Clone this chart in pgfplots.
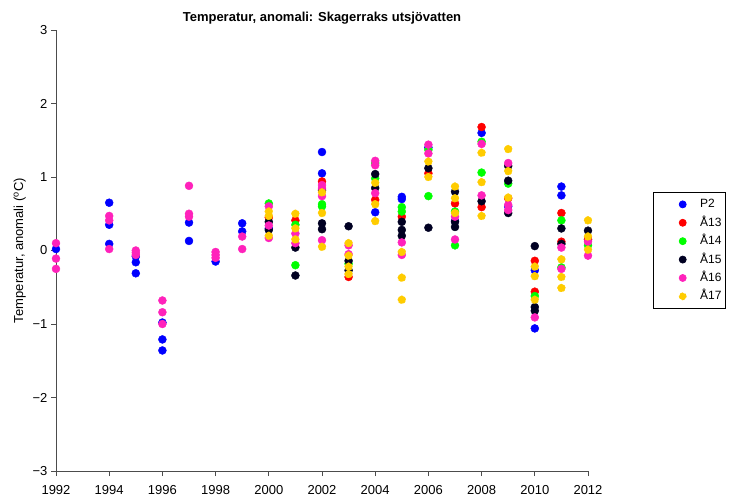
\documentclass[border=0pt]{standalone}
\usepackage{fontspec}
\setmainfont{Liberation Sans}
\usepackage{pgfplots}
\pgfplotsset{compat=1.18}
\definecolor{cP}{RGB}{0,0,255}
\definecolor{cA}{RGB}{255,0,0}
\definecolor{cB}{RGB}{0,255,0}
\definecolor{cC}{RGB}{0,0,34}
\definecolor{cD}{RGB}{255,34,187}
\definecolor{cE}{RGB}{255,204,0}
\begin{document}
\begin{tikzpicture}[x=1pt,y=1pt]
\useasboundingbox (-56,-27) rectangle (680,471);
\begin{axis}[
  at={(0,0)}, anchor=south west,
  scale only axis, width=532pt, height=441pt,
  xmin=1992, xmax=2012, ymin=-3, ymax=3,
  xtick={1992,1994,...,2012}, ytick={-3,-2,...,3},
  yticklabels={−3,−2,−1,0,1,2,3},
  axis lines*=left,
  tick align=outside, tick pos=left,
  major tick length=5pt,
  clip=false,
  axis line style={line width=0.8pt, black!70},
  tick style={line width=0.8pt, black!70},
  /pgf/number format/1000 sep={},
  /pgf/number format/assume math mode=true,
  tick label style={font=\fontsize{13}{13}\selectfont},
  xticklabel style={yshift=-6pt},
  title={\textbf{Temperatur, anomali: Skagerraks utsjövatten}},
  title style={font=\fontsize{13}{13}\selectfont, at={(0.5,1)}, yshift=-4pt},
  ylabel={Temperatur, anomali ($^{\mathrm{o}}$C)},
  ylabel style={font=\fontsize{13}{13}\selectfont, yshift=0pt},
  only marks,
  legend style={at={(1.122,0.6327)}, anchor=north west, draw=black, line width=0.8pt,
    font=\fontsize{12}{12}\selectfont, inner xsep=2pt, inner ysep=5pt, row sep=4.4pt,
    nodes={text height=8.5pt, text depth=1.5pt, inner sep=2pt},
    /tikz/every even column/.append style={column sep=0pt}},
  legend image code/.code={\fill[#1] (27pt,0pt) circle (3.5pt); \path (0pt,0pt) (42pt,0pt);},
  legend cell align=left,
]
\addplot+[mark=*, mark size=4pt, color=cP, mark options={fill=cP, draw=cP}] coordinates {
(1992,0.02) (1994,0.65) (1994,0.35) (1994,0.09) (1995,-0.08) (1995,-0.16) (1995,-0.31)
(1996,-0.98) (1996,-1.21) (1996,-1.36) (1997,0.38) (1997,0.13) (1998,-0.15)
(1999,0.37) (1999,0.26) (2000,0.30) (2002,1.34) (2002,1.05) (2004,0.52)
(2005,0.73) (2005,0.70) (2006,1.40) (2007,0.40) (2008,1.60) (2009,0.60)
(2010,-0.27) (2010,-1.06) (2011,0.87) (2011,0.75) (2012,0.15)};
\addlegendentry{P2}
\addplot+[mark=*, mark size=4pt, color=cA, mark options={fill=cA, draw=cA}] coordinates {
(2000,0.45) (2001,0.41) (2002,0.94) (2003,-0.36) (2004,0.69) (2005,0.46) (2006,1.05)
(2007,0.64) (2008,1.68) (2008,0.59) (2009,0.71) (2010,-0.14) (2010,-0.56)
(2011,0.51) (2011,0.12) (2012,0.15)};
\addlegendentry{Å13}
\addplot+[mark=*, mark size=4pt, color=cB, mark options={fill=cB, draw=cB}] coordinates {
(2000,0.64) (2001,0.35) (2001,-0.20) (2002,0.63) (2002,0.60) (2003,-0.18)
(2004,1.19) (2004,0.98) (2005,0.59) (2005,0.53) (2006,1.37) (2006,0.74)
(2007,0.53) (2007,0.07) (2008,1.48) (2008,1.06) (2009,0.91) (2010,-0.62)
(2011,0.41) (2011,-0.23) (2012,0.07)};
\addlegendentry{Å14}
\addplot+[mark=*, mark size=4pt, color=cC, mark options={fill=cC, draw=cC}] coordinates {
(2000,0.39) (2000,0.28) (2001,0.04) (2001,-0.34) (2002,0.82) (2002,0.37) (2002,0.29)
(2003,0.33) (2003,-0.14) (2003,-0.27) (2004,1.04) (2004,0.85)
(2005,0.39) (2005,0.28) (2005,0.20) (2006,1.12) (2006,0.31)
(2007,0.80) (2007,0.39) (2007,0.32) (2008,0.67) (2009,1.15) (2009,0.95) (2009,0.51)
(2010,0.06) (2010,-0.77) (2010,-0.82) (2011,0.30) (2011,0.09) (2012,0.27)};
\addlegendentry{Å15}
\addplot+[mark=*, mark size=4pt, color=cD, mark options={fill=cD, draw=cD}] coordinates {
(1992,0.10) (1992,-0.11) (1992,-0.25) (1994,0.47) (1994,0.41) (1994,0.02)
(1995,0.00) (1995,-0.03) (1995,-0.06) (1996,-0.68) (1996,-0.84) (1996,-1.00)
(1997,0.88) (1997,0.50) (1997,0.46) (1998,-0.02) (1998,-0.06) (1998,-0.10)
(1999,0.19) (1999,0.02) (2000,0.60) (2000,0.34) (2000,0.17) (2001,0.23) (2001,0.10)
(2002,0.89) (2002,0.85) (2002,0.74) (2002,0.14) (2003,0.07) (2003,-0.05)
(2004,1.22) (2004,1.16) (2004,0.78) (2005,0.11) (2005,-0.06) (2006,1.44) (2006,1.32)
(2007,0.46) (2007,0.15) (2008,1.45) (2008,0.75) (2009,1.19) (2009,0.62) (2009,0.55)
(2010,-0.91) (2011,0.04) (2011,-0.25) (2012,0.12) (2012,-0.07)};
\addlegendentry{Å16}
\addplot+[mark=*, mark size=4pt, color=cE, mark options={fill=cE, draw=cE}] coordinates {
(2000,0.53) (2000,0.47) (2000,0.20) (2001,0.50) (2001,0.30) (2001,0.15)
(2002,0.79) (2002,0.51) (2002,0.05) (2003,0.10) (2003,-0.07) (2003,-0.22) (2003,-0.32)
(2004,0.92) (2004,0.63) (2004,0.40) (2005,-0.02) (2005,-0.37) (2005,-0.67)
(2006,1.21) (2006,1.00) (2007,0.87) (2007,0.71) (2007,0.51)
(2008,1.33) (2008,0.93) (2008,0.47) (2009,1.38) (2009,1.08) (2009,0.72)
(2010,-0.22) (2010,-0.35) (2010,-0.67) (2011,-0.12) (2011,-0.36) (2011,-0.51)
(2012,0.41) (2012,0.19) (2012,0.01)};
\addlegendentry{Å17}
\end{axis}
\end{tikzpicture}
\end{document}
